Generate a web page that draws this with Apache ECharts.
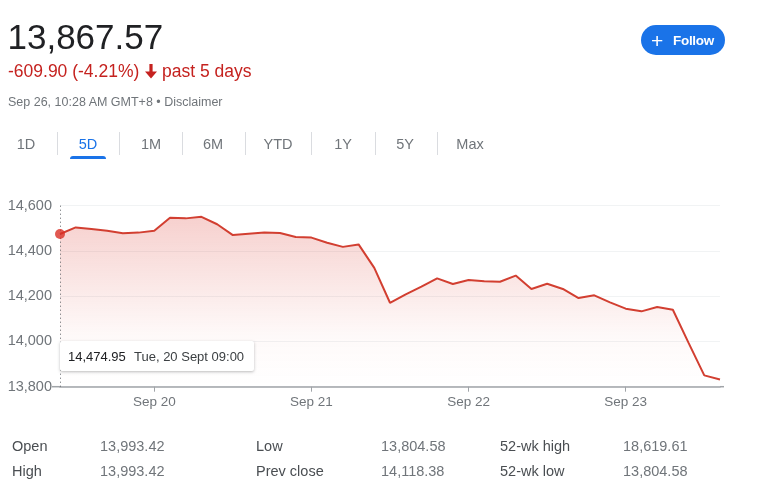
<!DOCTYPE html>
<html>
<head>
<meta charset="utf-8">
<script src="https://cdn.jsdelivr.net/npm/echarts@6/dist/echarts.min.js"></script>
<style>
  html, body { margin:0; padding:0; background:#fff; }
  body { width:758px; height:493px; position:relative; overflow:hidden; font-family:"Liberation Sans", Arial, sans-serif; }
  #chart { position:absolute; left:0; top:0; width:758px; height:493px; }
  .t { position:absolute; white-space:nowrap; line-height:1; }
  .sep { position:absolute; top:132px; width:1px; height:23px; background:#dadce0; }
</style>
</head>
<body>
<div id="chart"></div>
<div id="overlay"></div>
<script>
// ---- data ----
const days = ['Tue, 20 Sept', 'Wed, 21 Sept', 'Thu, 22 Sept', 'Fri, 23 Sept', 'Mon, 26 Sept'];
const slots = ['09:00','09:30','10:00','10:30','11:00','11:30','12:00','12:30','13:00','13:30'];
const slotsPerDay = [10, 10, 10, 10, 3];
const values = [
  14474.95, 14504, 14497, 14489, 14478, 14481, 14489, 14547, 14544, 14551,
  14518, 14470, 14476, 14482, 14479, 14462, 14459, 14436, 14418, 14429,
  14325, 14171, 14208, 14242, 14279, 14254, 14272, 14266, 14264, 14291,
  14232, 14255, 14232, 14192, 14204, 14173, 14145, 14133, 14152, 14140,
  13993.42, 13850, 13832
];
const xTickLabels = ['Sep 20', 'Sep 21', 'Sep 22', 'Sep 23'];
const xTickIndex = [6, 16, 26, 36];
const yMin = 13800, yMax = 14600, yStep = 200;

const headline = '13,867.57';
const change = '-609.90 (-4.21%)';
const period = 'past 5 days';
const stamp = 'Sep 26, 10:28 AM GMT+8 \u2022 Disclaimer';
const tabs = ['1D', '5D', '1M', '6M', 'YTD', '1Y', '5Y', 'Max'];
const statLabels = [['Open', 'High'], ['Low', 'Prev close'], ['52-wk high', '52-wk low']];
const statValues = [['13,993.42', '13,993.42'], ['13,804.58', '14,118.38'], ['18,619.61', '13,804.58']];

// ---- categories ----
const times = [];
days.forEach((d, di) => { for (let s = 0; s < slotsPerDay[di]; s++) times.push(d + ' ' + slots[s]); });

// ---- HTML overlay ----
const ov = document.getElementById('overlay');
function addText(txt, left, top, size, color, extra) {
  const e = document.createElement('div');
  e.className = 't';
  e.textContent = txt;
  e.style.left = left + 'px'; e.style.top = top + 'px';
  e.style.fontSize = size + 'px'; e.style.color = color;
  if (extra) Object.assign(e.style, extra);
  ov.appendChild(e);
  return e;
}
addText(headline, 7.5, 18.5, 35, '#202124');
addText(change, 8, 63, 17.5, '#c5221f');
const arrow = document.createElement('div');
arrow.style.cssText = 'position:absolute;left:145px;top:64px;width:12px;height:15px;';
arrow.innerHTML = '<svg width="12" height="15" viewBox="0 0 12 15"><path fill="#c5221f" d="M4.4 0h3.2v7.6H12L6 14.5 0 7.6h4.4z"/></svg>';
ov.appendChild(arrow);
addText(period, 162, 63, 17.5, '#c5221f');
addText(stamp, 8, 95.5, 12.5, '#70757a');

const tabCenters = [26, 88, 151, 213, 278, 343, 405, 470];
tabs.forEach((t, i) => {
  addText(t, tabCenters[i] - 30, 137, 14.5, i === 1 ? '#1a73e8' : '#70757a', {width:'60px', textAlign:'center'});
});
[57, 119, 182, 245, 311, 375, 437].forEach(x => {
  const s = document.createElement('div'); s.className = 'sep'; s.style.left = x + 'px'; ov.appendChild(s);
});
const ul = document.createElement('div');
ul.style.cssText = 'position:absolute;left:70px;top:155.5px;width:36px;height:3.5px;background:#1a73e8;border-radius:3px 3px 0 0;';
ov.appendChild(ul);

// follow button
const btn = document.createElement('div');
btn.style.cssText = 'position:absolute;left:641px;top:25px;width:84px;height:30px;border-radius:15px;background:#1a73e8;';
ov.appendChild(btn);
addText('+', 651, 29.5, 21, '#fff', {fontWeight:'normal'});
addText('Follow', 673, 33.5, 13.5, '#fff', {fontWeight:'bold', letterSpacing:'-0.3px'});

// stats
const colX = [[12, 100], [256, 381], [500, 623]];
const rowTop = [438.5, 463.5];
statLabels.forEach((col, c) => {
  col.forEach((lab, r) => {
    addText(lab, colX[c][0], rowTop[r], 14.5, '#4a4e52');
    addText(statValues[c][r], colX[c][1], rowTop[r], 14.5, '#70757a');
  });
});

// tooltip box
const tip = document.createElement('div');
tip.style.cssText = 'position:absolute;left:60px;top:341px;width:194px;height:30px;background:#fff;box-shadow:0 1px 3px rgba(60,64,67,0.35);border-radius:2px;';
ov.appendChild(tip);
addText(values[0].toLocaleString('en-US', {minimumFractionDigits:2}), 68, 349.5, 13, '#202124');
addText(times[0], 134, 349.5, 13, '#3c4043');

// ---- chart ----
const chart = echarts.init(document.getElementById('chart'));
const isTick = (i) => xTickIndex.indexOf(i) >= 0;
chart.setOption({
  animation: false,
  grid: { left: 60, right: 38, top: 205.7, bottom: 106.3 },
  xAxis: {
    type: 'category',
    data: times,
    boundaryGap: false,
    axisLine: { show: true, lineStyle: { color: '#a0a4a8', width: 1.5 } },
    axisTick: { show: true, interval: (i) => isTick(i), length: 5, lineStyle: { color: '#a0a4a8', width: 1 } },
    axisLabel: {
      interval: (i) => isTick(i),
      formatter: (v, i) => xTickLabels[xTickIndex.indexOf(i)] || '',
      color: '#70757a', fontSize: 13.5, margin: 9,
      fontFamily: '"Liberation Sans", Arial, sans-serif'
    },
    splitLine: { show: false }
  },
  yAxis: {
    type: 'value',
    min: yMin, max: yMax, interval: yStep,
    axisLine: { show: false },
    axisTick: { show: false },
    axisLabel: {
      formatter: (v) => v.toLocaleString('en-US'),
      color: '#70757a', fontSize: 14.5, margin: 8,
      fontFamily: '"Liberation Sans", Arial, sans-serif'
    },
    splitLine: { lineStyle: { color: '#f1f3f4', width: 1 } }
  },
  graphic: [{
    type: 'line', shape: { x1: 52, y1: 386.7, x2: 60, y2: 386.7 },
    style: { stroke: '#a0a4a8', lineWidth: 1.5 }, silent: true
  }, {
    type: 'line', shape: { x1: 720, y1: 386.7, x2: 724, y2: 386.7 },
    style: { stroke: '#a0a4a8', lineWidth: 1.5 }, silent: true
  }],
  series: [{
    type: 'line',
    data: values,
    symbol: 'none',
    lineStyle: { color: '#d23f31', width: 2 },
    areaStyle: {
      color: {
        type: 'linear', x: 0, y: 0, x2: 0, y2: 1,
        colorStops: [
          { offset: 0, color: 'rgba(217,48,37,0.32)' },
          { offset: 0.7, color: 'rgba(217,48,37,0.04)' },
          { offset: 1, color: 'rgba(217,48,37,0.0)' }
        ]
      }
    },
    markLine: {
      silent: true, symbol: 'none',
      label: { show: false },
      lineStyle: { color: '#5f6368', type: [1, 3], width: 1 },
      data: [{ xAxis: times[0] }]
    }
  }, {
    type: 'scatter',
    data: [[times[0], values[0]]],
    symbolSize: 10,
    itemStyle: { color: '#d93025' },
    z: 5
  }]
});
</script>
</body>
</html>
